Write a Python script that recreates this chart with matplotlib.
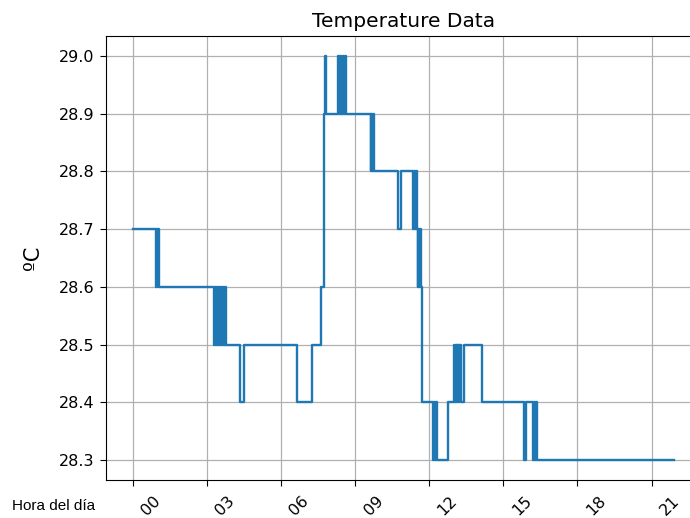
"""
Temperatura a lo largo del día — gráfico escalonado
"""
from datetime import datetime, timedelta

import matplotlib
matplotlib.use("Agg")
import matplotlib.pyplot as plt
import matplotlib.dates as mdates
import matplotlib.transforms as mtransforms

# momentos (horas desde 00:00) en que cambia la lectura, y la lectura nueva
change_hours = [
    0.00, 0.96, 1.00, 1.05,
    3.29, 3.33, 3.37, 3.41, 3.45, 3.49, 3.53, 3.57, 3.61, 3.65, 3.69, 3.73, 3.77, 3.82,
    4.36, 4.52,
    6.66, 7.27, 7.60, 7.74, 7.79, 7.84,
    8.30, 8.34, 8.37, 8.42, 8.50, 8.55, 8.58, 8.62,
    9.63, 9.66, 9.69, 9.72, 9.75,
    10.74, 10.84,
    11.35, 11.38, 11.44, 11.47, 11.50, 11.53, 11.56, 11.59, 11.62, 11.65, 11.68, 11.71,
    12.16, 12.20, 12.24, 12.28, 12.32, 12.37,
    12.76, 13.00, 13.04, 13.07, 13.12, 13.14, 13.20, 13.22, 13.28,
    13.41, 14.14,
    15.83, 15.93,
    16.20, 16.24, 16.28, 16.32, 16.37,
    21.91,
]
temps = [
    28.7, 28.6, 28.7, 28.6,
    28.5, 28.6, 28.5, 28.6, 28.5, 28.6, 28.5, 28.6, 28.5, 28.6, 28.5, 28.6, 28.5, 28.5,
    28.4, 28.5,
    28.4, 28.5, 28.6, 28.9, 29.0, 28.9,
    29.0, 28.9, 29.0, 28.9, 29.0, 28.9, 29.0, 28.9,
    28.8, 28.9, 28.8, 28.9, 28.8,
    28.7, 28.8,
    28.7, 28.8, 28.7, 28.8, 28.7, 28.6, 28.7, 28.6, 28.7, 28.6, 28.6, 28.4,
    28.3, 28.4, 28.3, 28.4, 28.3, 28.3,
    28.4, 28.5, 28.4, 28.5, 28.4, 28.5, 28.4, 28.5, 28.4,
    28.5, 28.4,
    28.3, 28.4,
    28.3, 28.4, 28.3, 28.4, 28.3,
    28.3,
]
y_ticks = [28.3, 28.4, 28.5, 28.6, 28.7, 28.8, 28.9, 29.0]

base = datetime(2019, 1, 1)
times = [base + timedelta(hours=h) for h in change_hours]

fig = plt.figure(figsize=(6.9, 5.18), dpi=100)
ax = fig.add_axes([0.1532, 0.073, 0.8628, 0.858])

ax.plot(times, temps, drawstyle="steps-post", color="#1f77b4", linewidth=1.7)

ax.xaxis.set_major_locator(mdates.HourLocator(byhour=range(0, 24, 3)))
ax.xaxis.set_major_formatter(mdates.DateFormatter("%H"))
ax.tick_params(axis="both", labelsize=11.5, length=4.5)

# las etiquetas del eje x van giradas y algo corridas a la derecha
offset = mtransforms.ScaledTranslation(6 / 100, -2 / 100, fig.dpi_scale_trans)
for lbl in ax.get_xticklabels():
    lbl.set_rotation(45)
    lbl.set_ha("left")
    lbl.set_transform(lbl.get_transform() + offset)

ax.set_yticks(y_ticks)
ax.grid(True, color="#b0b0b0", linewidth=0.9)
ax.set_title("Temperature Data", fontsize=14.5)
ax.set_ylabel("ºC", fontsize=15)
ax.yaxis.set_label_coords(-0.105, 0.5)

fig.text(12 / 690, 1 - 506 / 518, "Hora del día", fontsize=11,
         family=["Liberation Sans", "DejaVu Sans"], va="center", ha="left")

fig.savefig("out.png", dpi=100, facecolor="white")
